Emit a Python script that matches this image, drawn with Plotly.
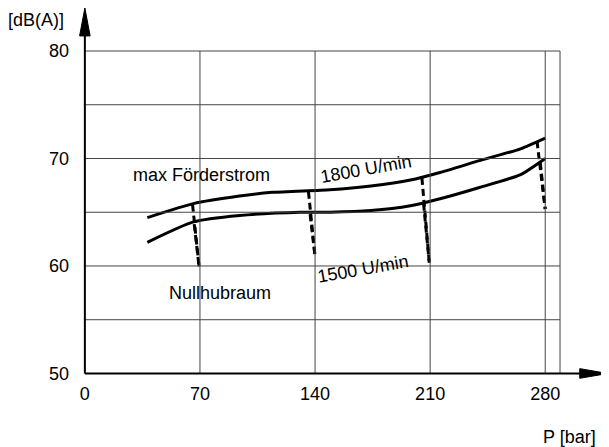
import plotly.graph_objects as go

# Pressure (bar) vs. noise level dB(A)
p_1800 = [38, 66, 94, 114, 149, 174, 198, 216, 240, 265, 280]
db_1800 = [64.5, 65.8, 66.5, 66.85, 67.1, 67.45, 68.0, 68.7, 69.8, 70.9, 71.9]

p_1500 = [38, 66, 94, 131, 149, 174, 198, 216, 240, 265, 280]
db_1500 = [62.2, 64.1, 64.7, 65.0, 65.0, 65.15, 65.6, 66.25, 67.3, 68.5, 70.0]

# dashed drop-off lines (from each curve down to the "Nullhubraum" level)
drops = [
    ([65.5, 69.5], [65.7, 59.9]),
    ([66.5, 69.5], [63.9, 59.9]),
    ([136, 140], [66.9, 60.9]),
    ([137, 140], [64.8, 60.9]),
    ([205, 209.5], [68.2, 60.3]),
    ([206, 209.5], [65.8, 60.3]),
    ([275, 280], [71.6, 65.3]),
    ([277, 280], [69.6, 65.3]),
]

x_ticks = [0, 70, 140, 210, 280]
y_ticks = [50, 60, 70, 80]
x_grid = [70, 140, 210, 280, 289]
y_grid = [55, 60, 65, 70, 75, 80]

x_min, x_max, y_min, y_max = -6, 320, 49.3, 84
x_tip = 318
grid_right, grid_top = 289, 80

fig = go.Figure()

for v in x_grid:
    fig.add_shape(type="line", x0=v, x1=v, y0=50, y1=grid_top,
                  line=dict(color="#444", width=1))
for v in y_grid:
    fig.add_shape(type="line", x0=0, x1=grid_right, y0=v, y1=v,
                  line=dict(color="#444", width=1))

# axes with arrows
fig.add_shape(type="line", x0=0, x1=x_tip - 8, y0=50, y1=50, line=dict(color="black", width=2))
fig.add_shape(type="line", x0=0, x1=0, y0=50, y1=y_max - 1.5, line=dict(color="black", width=2))
fig.add_trace(go.Scatter(x=[x_tip - 17, x_tip, x_tip - 17, x_tip - 17], y=[50.45, 50, 49.55, 50.45],
                         fill="toself", fillcolor="black", mode="lines",
                         line=dict(color="black", width=1), hoverinfo="skip"))
fig.add_trace(go.Scatter(x=[-3.2, 0, 3.2, -3.2], y=[y_max - 2.6, y_max, y_max - 2.6, y_max - 2.6],
                         fill="toself", fillcolor="black", mode="lines",
                         line=dict(color="black", width=1), hoverinfo="skip"))

for xs, ys in drops:
    fig.add_trace(go.Scatter(x=xs, y=ys, mode="lines",
                             line=dict(color="black", width=3, dash="7px,4px"),
                             hoverinfo="skip"))

fig.add_trace(go.Scatter(x=p_1800, y=db_1800, mode="lines", name="1800 U/min",
                         line=dict(color="black", width=3, shape="spline", smoothing=0.6)))
fig.add_trace(go.Scatter(x=p_1500, y=db_1500, mode="lines", name="1500 U/min",
                         line=dict(color="black", width=3, shape="spline", smoothing=0.6)))

font = dict(family="Liberation Sans, Arial", size=18, color="black")
fig.add_annotation(x=71.2, y=68.5, text="max Förderstrom", showarrow=False, font=font)
fig.add_annotation(x=82, y=57.5, text="Nullhubraum", showarrow=False, font=font)
fig.add_annotation(x=171, y=69.0, text="1800 U/min", showarrow=False, font=font, textangle=-10)
fig.add_annotation(x=169, y=59.7, text="1500 U/min", showarrow=False, font=font, textangle=-10)
fig.add_annotation(x=-0.017, y=0.968, xref="paper", yref="paper", text="[dB(A)]",
                   showarrow=False, font=font, xanchor="right", yanchor="middle")
fig.add_annotation(x=0.976, y=-0.151, xref="paper", yref="paper", text="P [bar]",
                   showarrow=False, font=font, xanchor="right", yanchor="middle")

fig.update_layout(
    width=609, height=447,
    margin=dict(l=67, r=6, t=0, b=73.5),
    plot_bgcolor="white", paper_bgcolor="white",
    showlegend=False,
    font=font,
)
fig.update_xaxes(range=[x_min, x_max], tickvals=x_ticks, showgrid=False, zeroline=False,
                 showline=False, ticks="", ticklabelstandoff=0)
fig.update_yaxes(range=[y_min, y_max], tickvals=y_ticks, showgrid=False, zeroline=False,
                 showline=False, ticks="", ticklabelstandoff=5)

fig.write_html("out.html")
